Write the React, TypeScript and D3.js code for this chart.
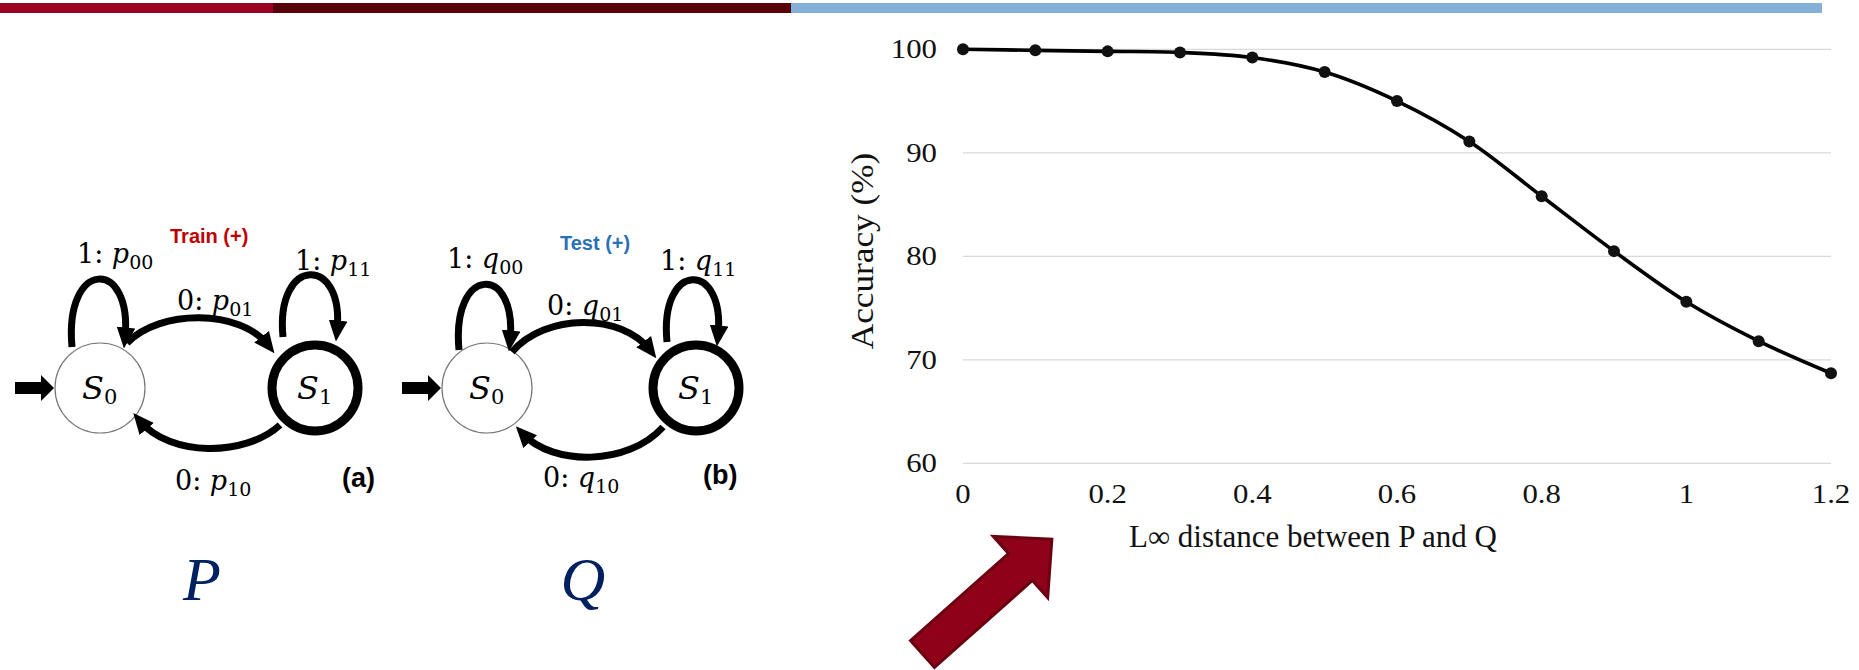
import React from "react";
import * as d3 from "d3";

const W = 1859;
const H = 670;

// chart data
const distances = [0, 0.1, 0.2, 0.3, 0.4, 0.5, 0.6, 0.7, 0.8, 0.9, 1.0, 1.1, 1.2];
const accuracy = [100, 99.9, 99.8, 99.7, 99.2, 97.8, 95.0, 91.1, 85.8, 80.5, 75.6, 71.8, 68.7];
const yTicks = [60, 70, 80, 90, 100];
const xTicks = [0, 0.2, 0.4, 0.6, 0.8, 1, 1.2];
const xTitle = "L\u221e distance between P and Q";
const yTitle = "Accuracy (%)";

const topBars = [
  { x0: 0, x1: 273, color: "#990021" },
  { x0: 273, x1: 791, color: "#58000a" },
  { x0: 791, x1: 1822, color: "#84afd6" },
];

const diagrams = [
  {
    s0: [100, 388], s1: [315, 388],
    loop0: "M72,347 C64,258 133,258 125,338",
    loop1: "M283,337 C275,255 345,255 337,331",
    top: "M127,343 C160,309 240,309 268,345",
    bottom: "M280,425 C245,457 170,457 140,421",
    sym: "p", title: "Train (+)", titleColor: "#c00000", titleX: 170, titleY: 243,
    labels: [
      { x: 77, y: 263, pre: "1: ", sub: "00" },
      { x: 177, y: 310, pre: "0: ", sub: "01" },
      { x: 295, y: 270, pre: "1: ", sub: "11" },
      { x: 175, y: 490, pre: "0: ", sub: "10" },
    ],
    tag: "(a)", tagX: 342, tagY: 487,
  },
  {
    s0: [487, 388], s1: [696, 388],
    loop0: "M459,350 C451,264 518,264 510,341",
    loop1: "M667,342 C659,260 726,260 718,336",
    top: "M512,352 C545,313 622,313 650,350",
    bottom: "M663,427 C628,466 553,466 523,434",
    sym: "q", title: "Test (+)", titleColor: "#2a72b5", titleX: 560, titleY: 250,
    labels: [
      { x: 447, y: 268, pre: "1: ", sub: "00" },
      { x: 547, y: 315, pre: "0: ", sub: "01" },
      { x: 660, y: 270, pre: "1: ", sub: "11" },
      { x: 543, y: 487, pre: "0: ", sub: "10" },
    ],
    tag: "(b)", tagX: 703, tagY: 484,
  },
];

const x = d3.scaleLinear().domain([0, 1.2]).range([963, 1831]);
const y = d3.scaleLinear().domain([60, 100]).range([463.3, 49.3]);

const line = d3
  .line<number>()
  .x((_, i) => x(distances[i]))
  .y((d) => y(d))
  .curve(d3.curveCatmullRom.alpha(0.5));

const serif = "'Liberation Serif', 'Times New Roman', serif";
const mathFont = "'DejaVu Serif', serif";
const sans = "'Liberation Sans', Arial, sans-serif";

const fmt = (v: number) => String(+v.toFixed(1));

function StateDiagram({ d, idx }: { d: (typeof diagrams)[number]; idx: number }) {
  const [c0x, c0y] = d.s0;
  const [c1x, c1y] = d.s1;
  const m = `head${idx}`;
  const entry = [
    [-85, -6], [-59, -6], [-59, -13], [-46, 0], [-59, 13], [-59, 6], [-85, 6],
  ]
    .map(([dx, dy]) => `${c0x + dx},${c0y + dy}`)
    .join(" ");
  return (
    <g>
      <defs>
        <marker id={m} markerUnits="userSpaceOnUse" markerWidth={21} markerHeight={19}
          refX={9} refY={8} orient="auto" viewBox="0 0 18 16">
          <path d="M0,0 L18,8 L0,16 z" fill="#000" />
        </marker>
      </defs>
      <polygon points={entry} fill="#000" />
      <circle cx={c0x} cy={c0y} r={45} fill="#fff" stroke="#777" strokeWidth={1.2} />
      <circle cx={c1x} cy={c1y} r={43} fill="#fff" stroke="#000" strokeWidth={9} />
      {[d.loop0, d.loop1, d.top, d.bottom].map((p, i) => (
        <path key={i} d={p} fill="none" stroke="#000" strokeWidth={7} markerEnd={`url(#${m})`} />
      ))}
      {[[c0x, c0y, "0"], [c1x, c1y, "1"]].map(([cx, cy, s]) => (
        <text key={s as string} x={(cx as number) - 18} y={(cy as number) + 11}
          fontFamily={mathFont} fontSize={32} fill="#000">
          <tspan fontStyle="italic">S</tspan>
          <tspan fontSize={21} dy={5}>{s}</tspan>
        </text>
      ))}
      {d.labels.map((l, i) => (
        <text key={i} x={l.x} y={l.y} fontFamily={mathFont} fontSize={27} fill="#000">
          <tspan>{l.pre}</tspan>
          <tspan fontStyle="italic">{d.sym}</tspan>
          <tspan fontSize={19} dy={6}>{l.sub}</tspan>
        </text>
      ))}
      <text x={d.titleX} y={d.titleY} fontFamily={sans} fontWeight="bold" fontSize={20}
        fill={d.titleColor}>{d.title}</text>
      <text x={d.tagX} y={d.tagY} fontFamily={sans} fontWeight="bold" fontSize={27}
        fill="#000">{d.tag}</text>
    </g>
  );
}

export default function App() {
  // block arrow in its own frame, tail at origin pointing along +x
  const arrow = "M0,-18 L131,-18 L131,-41 L173,0 L131,41 L131,18 L0,18 Z";
  return (
    <svg width={W} height={H} style={{ position: "absolute", left: 0, top: 0, background: "#fff" }}>
      {topBars.map((b) => (
        <rect key={b.x0} x={b.x0} y={3} width={b.x1 - b.x0} height={10} fill={b.color} />
      ))}

      {diagrams.map((d, i) => (
        <StateDiagram key={i} d={d} idx={i} />
      ))}

      <text x={202} y={600} textAnchor="middle" fontFamily={serif} fontStyle="italic"
        fontSize={62} fill="#002060">P</text>
      <text x={583} y={600} textAnchor="middle" fontFamily={serif} fontStyle="italic"
        fontSize={62} fill="#002060">Q</text>

      {/* gridlines */}
      {yTicks.map((t) => (
        <line key={t} x1={x(0)} x2={x(1.2)} y1={y(t)} y2={y(t)} stroke="#d9d9d9" strokeWidth={1.3} />
      ))}
      {yTicks.map((t) => (
        <text key={t} transform={`translate(937,${y(t) + 9}) scale(1.1,1)`} textAnchor="end"
          fontFamily={serif} fontSize={28} fill="#111">{t}</text>
      ))}
      {xTicks.map((t) => (
        <text key={t} transform={`translate(${x(t)},503) scale(1.1,1)`} textAnchor="middle"
          fontFamily={serif} fontSize={28} fill="#111">{fmt(t)}</text>
      ))}
      <text x={1129} y={547} fontFamily={serif} fontSize={31} fill="#111">{xTitle}</text>
      <text transform="translate(873,251) rotate(-90) scale(1.1,1)" textAnchor="middle"
        fontFamily={serif} fontSize={32} fill="#111">{yTitle}</text>

      <path d={line(accuracy) ?? ""} fill="none" stroke="#000" strokeWidth={3.6} />
      {accuracy.map((v, i) => (
        <circle key={i} cx={x(distances[i])} cy={y(v)} r={6} fill="#111" />
      ))}

      <path d={arrow} transform="translate(922.5,654) rotate(-41.6)" fill="#8f0019"
        stroke="#6a0010" strokeWidth={3} strokeLinejoin="miter" />
    </svg>
  );
}
